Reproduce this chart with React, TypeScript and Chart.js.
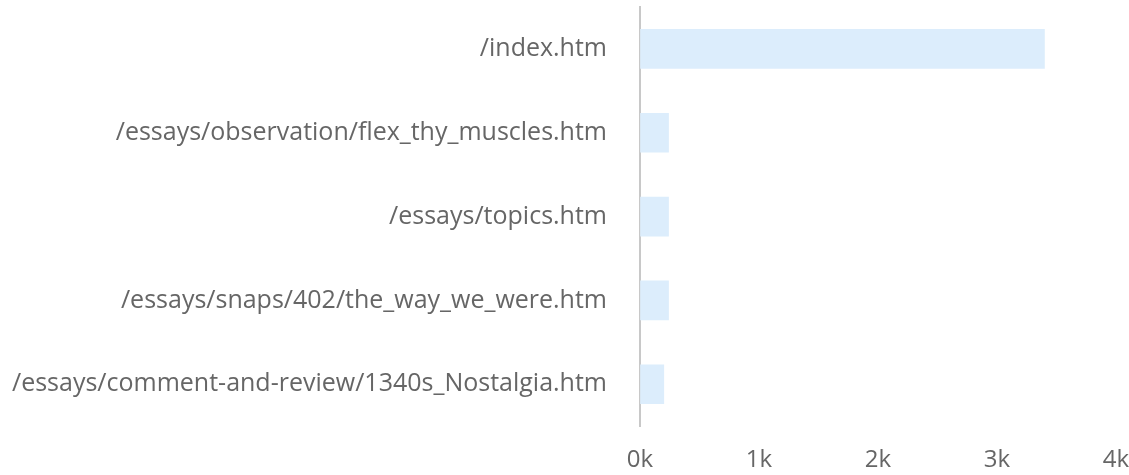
import React, { useEffect, useRef } from "react";
import { Chart, registerables } from "chart.js";

Chart.register(...registerables);

const pages = [
  "/index.htm",
  "/essays/observation/flex_thy_muscles.htm",
  "/essays/topics.htm",
  "/essays/snaps/402/the_way_we_were.htm",
  "/essays/comment-and-review/1340s_Nostalgia.htm",
];
const hits = [3400, 240, 240, 240, 200];
const xTicks = [0, 1000, 2000, 3000, 4000];

const FONT = "'Open Sans'";

export default function App() {
  const ref = useRef<HTMLCanvasElement | null>(null);
  useEffect(() => {
    let chart: Chart | null = null;
    let cancelled = false;
    const make = () => {
      const canvas = ref.current;
      if (!canvas || cancelled) return;
      chart = new Chart(canvas, {
        type: "bar",
        data: {
          labels: pages,
          datasets: [
            {
              data: hits,
              backgroundColor: "#dcedfc",
              borderWidth: 0,
              barThickness: 39,
            },
          ],
        },
        options: {
          indexAxis: "y",
          animation: false,
          responsive: false,
          maintainAspectRatio: false,
          layout: { padding: { left: 10, top: 7, right: 0, bottom: 0 } },
          plugins: { legend: { display: false }, tooltip: { enabled: false } },
          scales: {
            x: {
              min: 0,
              max: 4000,
              grid: {
                display: true,
                drawOnChartArea: false,
                drawTicks: true,
                tickLength: 20,
                color: "rgba(0,0,0,0)",
              },
              border: { display: false },
              afterBuildTicks: (scale: any) => {
                scale.ticks = xTicks.map((v) => ({ value: v }));
              },
              ticks: {
                padding: 0,
                color: "#666",
                font: { family: FONT, size: 24 },
                callback: (v: any) => Number(v) / 1000 + "k",
                maxRotation: 0,
              },
            },
            y: {
              grid: {
                display: true,
                drawOnChartArea: false,
                drawTicks: true,
                tickLength: 33,
                color: "rgba(0,0,0,0)",
              },
              border: { display: true, color: "#c8c8c8", width: 2 },
              afterFit: (scale: any) => {
                scale.width = 630;
                scale.paddingTop = 0;
                scale.paddingBottom = 0;
              },
              ticks: {
                padding: 0,
                color: "#666",
                font: { family: FONT, size: 25 },
              },
            },
          },
        },
      });
    };
    const fonts: any = (document as any).fonts;
    if (fonts && fonts.load) {
      Promise.all([fonts.load("23px 'Open Sans'"), fonts.load("23px 'Open Sans'", "0k/index.htm")])
        .catch(() => {})
        .then(make);
    } else {
      make();
    }
    return () => {
      cancelled = true;
      if (chart) chart.destroy();
    };
  }, []);
  return (
    <div style={{ position: "absolute", left: 0, top: 0, width: 1129, height: 475 }}>
      <canvas ref={ref} width={1129} height={475} style={{ width: 1129, height: 475 }} />
    </div>
  );
}
